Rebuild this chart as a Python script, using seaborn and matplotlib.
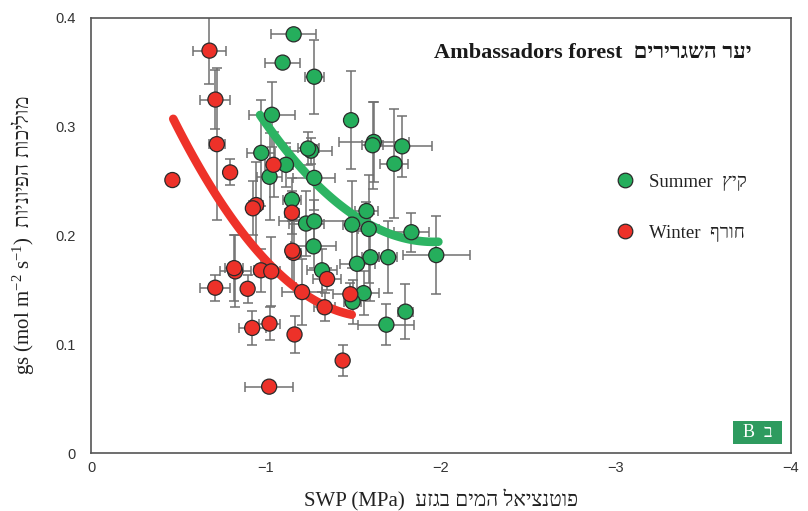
import numpy as np
import pandas as pd
import matplotlib
matplotlib.use("Agg")
import matplotlib.pyplot as plt
from matplotlib.lines import Line2D
from matplotlib.patches import Rectangle
import seaborn as sns

# ---- Summer measurements: stem water potential (MPa) vs stomatal conductance
summer_swp = [-1.158, -1.095, -1.276, -1.034, -1.486, -1.616, -1.609, -1.778,
              -1.257, -1.240, -0.973, -1.114, -1.734, -1.020, -1.276, -1.148,
              -1.574, -1.229, -1.276, -1.492, -1.587, -1.831, -1.973, -1.272,
              -1.597, -1.698, -1.520, -1.320, -1.558, -1.495, -1.688, -1.797]
summer_gs = [0.385, 0.359, 0.346, 0.311, 0.306, 0.286, 0.283, 0.282,
             0.278, 0.280, 0.276, 0.265, 0.266, 0.254, 0.253, 0.233,
             0.2225, 0.211, 0.213, 0.210, 0.206, 0.203, 0.182, 0.190,
             0.180, 0.180, 0.174, 0.168, 0.147, 0.139, 0.118, 0.130]
summer_swp_err = [0.13, 0.10, 0.055, 0.13, 0.0, 0.20, 0.06, 0.17,
                  0.12, 0.06, 0.08, 0.04, 0.08, 0.07, 0.12, 0.05,
                  0.065, 0.10, 0.20, 0.05, 0.06, 0.10, 0.19, 0.13,
                  0.05, 0.05, 0.10, 0.086, 0.09, 0.05, 0.16, 0.045]
summer_gs_err = [0.0, 0.0, 0.034, 0.030, 0.045, 0.037, 0.040, 0.028,
                 0.012, 0.015, 0.049, 0.020, 0.050, 0.040, 0.030, 0.020,
                 0.008, 0.030, 0.020, 0.040, 0.050, 0.018, 0.036, 0.020,
                 0.040, 0.033, 0.030, 0.020, 0.020, 0.020, 0.019, 0.025]

# ---- Winter measurements
winter_swp = [-0.465, -0.677, -0.711, -0.719, -0.795, -1.043, -0.944, -0.925,
              -1.148, -1.158, -1.150, -0.824, -0.818, -0.710, -0.895, -0.971,
              -1.030, -1.206, -0.921, -1.020, -1.163, -1.018, -1.349, -1.482,
              -1.335, -1.438]
winter_gs = [0.251, 0.370, 0.325, 0.284, 0.258, 0.265, 0.228, 0.225,
             0.221, 0.184, 0.186, 0.167, 0.170, 0.152, 0.151, 0.168,
             0.167, 0.148, 0.115, 0.119, 0.109, 0.061, 0.160, 0.146,
             0.134, 0.085]
winter_swp_err = [0.01, 0.097, 0.086, 0.045, 0.0, 0.05, 0.04, 0.03,
                  0.04, 0.04, 0.03, 0.088, 0.05, 0.086, 0.02, 0.04,
                  0.05, 0.115, 0.077, 0.06, 0.0, 0.136, 0.08, 0.10,
                  0.06, 0.0]
winter_gs_err = [0.005, 0.031, 0.027, 0.070, 0.012, 0.030, 0.040, 0.025,
                 0.020, 0.030, 0.030, 0.033, 0.030, 0.012, 0.013, 0.020,
                 0.032, 0.030, 0.016, 0.015, 0.017, 0.0, 0.010, 0.010,
                 0.013, 0.014]

# ---- Trend curves (points along each fitted curve)
summer_trend_swp = [-0.966, -1.194, -1.528, -1.766, -1.985]
summer_trend_gs = [0.311, 0.263, 0.216, 0.199, 0.194]
winter_trend_swp = [-0.470, -0.537, -1.051, -1.204, -1.337, -1.490]
winter_trend_gs = [0.306, 0.288, 0.168, 0.148, 0.136, 0.127]

x_ticks = [0, -1, -2, -3, -4]
x_tick_labels = ["0", "\u22121", "\u22122", "\u22123", "\u22124"]
y_ticks = [0, 0.1, 0.2, 0.3, 0.4]
y_tick_labels = ["0", "0.1", "0.2", "0.3", "0.4"]

GREEN = "#25AE5C"
RED = "#ED3129"
GREEN_LINE = "#2DB463"
RED_LINE = "#EE3229"
BADGE = "#2E9B5F"


def rtl(s):
    """Hebrew text in display (visual) order for left-to-right rendering."""
    return s[::-1]


sns.set_theme(style="white")
plt.rcParams["font.family"] = ["Liberation Serif", "DejaVu Sans"]
plt.rcParams["mathtext.fontset"] = "custom"
plt.rcParams["mathtext.rm"] = "Liberation Serif"
plt.rcParams["mathtext.it"] = "Liberation Serif:italic"

fig = plt.figure(figsize=(8.08, 5.11), dpi=100)
fig.patch.set_facecolor("white")
ax = fig.add_axes([91 / 808, 58 / 511, 700 / 808, 435 / 511])

df = pd.concat([
    pd.DataFrame({"swp": summer_swp, "gs": summer_gs, "season": "Summer"}),
    pd.DataFrame({"swp": winter_swp, "gs": winter_gs, "season": "Winter"}),
], ignore_index=True)

# error bars
err_kw = dict(fmt="none", ecolor="#707070", elinewidth=1.1, capsize=3.4,
              capthick=1.1, zorder=1)
ax.errorbar(summer_swp, summer_gs, xerr=summer_swp_err, yerr=summer_gs_err, **err_kw)
ax.errorbar(winter_swp, winter_gs, xerr=winter_swp_err, yerr=winter_gs_err, **err_kw)

# fitted trend curves
for tx, ty, col in [(summer_trend_swp, summer_trend_gs, GREEN_LINE),
                    (winter_trend_swp, winter_trend_gs, RED_LINE)]:
    coef = np.polyfit(tx, ty, 2)
    xs = np.linspace(max(tx), min(tx), 120)
    sns.lineplot(x=xs, y=np.polyval(coef, xs), color=col, lw=6.2, ax=ax,
                 sort=False, zorder=3, solid_capstyle="round")

sns.scatterplot(data=df, x="swp", y="gs", hue="season",
                palette={"Summer": GREEN, "Winter": RED}, s=118,
                edgecolor="#2a2a2a", linewidth=0.9, legend=False, zorder=4, ax=ax)

ax.set_xlim(0, -4)
ax.set_ylim(0, 0.4)
ax.set_xticks(x_ticks)
ax.set_xticklabels(x_tick_labels)
ax.set_xticks([-0.5, -1.5, -2.5, -3.5], minor=True)
ax.set_yticks(y_ticks)
ax.set_yticklabels(y_tick_labels)

ax.tick_params(axis="both", which="both", direction="in", length=6, width=1.0,
               color="#555555", labelcolor="#333333", labelsize=10.5,
               top=False, right=False, labelfontfamily="Liberation Sans")
ax.tick_params(axis="y", pad=11)
ax.tick_params(axis="x", pad=6)

for sp in ax.spines.values():
    sp.set_color("#555555")
    sp.set_linewidth(1.2)

ax.set_xlabel("SWP (MPa)  " + rtl("פוטנציאל המים בגזע"), fontsize=15,
              color="#222222", labelpad=10)
ax.set_ylabel("gs (mol m$^{\\mathrm{-2}}$ s$^{\\mathrm{-1}}$)  " + rtl("מוליכות הפיוניות"),
              fontsize=15, color="#222222", labelpad=14)

# title inside the plot area
fig.text(752 / 808, 1 - 53 / 511, "Ambassadors forest  " + rtl("יער השגרירים"),
         ha="right", va="center", fontsize=16, fontweight="bold", color="#1a1a1a")

# legend
handles = [
    Line2D([0], [0], marker="o", ls="", markerfacecolor=GREEN,
           markeredgecolor="#2a2a2a", markeredgewidth=0.9, markersize=10.5),
    Line2D([0], [0], marker="o", ls="", markerfacecolor=RED,
           markeredgecolor="#2a2a2a", markeredgewidth=0.9, markersize=10.5),
]
labels = ["Summer  " + rtl("קיץ"), "Winter  " + rtl("חורף")]
leg = ax.legend(handles, labels, loc="center left", bbox_to_anchor=(0.749, 0.564),
                frameon=False, fontsize=13.5, labelspacing=1.8, handlelength=1.0,
                handletextpad=0.8, borderpad=0, borderaxespad=0)
for t in leg.get_texts():
    t.set_color("#222222")

# panel badge
fig.add_artist(Rectangle((733 / 808, 1 - 444 / 511), 49 / 808, 23 / 511,
                         transform=fig.transFigure, fc=BADGE, ec="none"))
fig.text(757.5 / 808, 1 - 432.5 / 511, "B  " + rtl("ב"), ha="center", va="center",
         fontsize=13, color="white")

fig.savefig("out.png", dpi=100, facecolor="white")
